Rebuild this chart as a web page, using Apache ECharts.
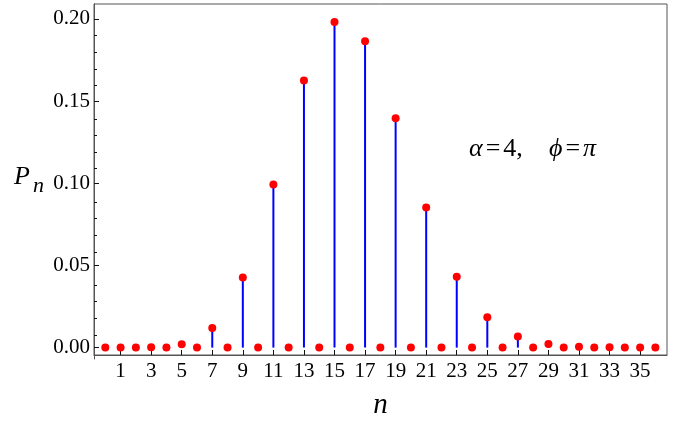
<!DOCTYPE html>
<html>
<head>
<meta charset="utf-8">
<script src="https://cdn.jsdelivr.net/npm/echarts@6/dist/echarts.min.js"></script>
<style>
html,body{margin:0;padding:0;background:#fff;}
#chart{width:689px;height:425px;}
</style>
</head>
<body>
<div id="chart"></div>
<script>
// Photon-number values n = 0..36
var nValues = [0,1,2,3,4,5,6,7,8,9,10,11,12,13,14,15,16,17,18,19,20,21,22,23,24,25,26,27,28,29,30,31,32,33,34,35,36];
var pValues = [0, 0.00001, 0, 0.0002, 0, 0.0020, 0, 0.0120, 0, 0.0427, 0, 0.0992, 0, 0.1626, 0, 0.1981, 0, 0.1865, 0, 0.1395, 0, 0.0852, 0, 0.0431, 0, 0.0184, 0, 0.0068, 0, 0.0022, 0, 0.0005, 0, 0.0002, 0, 0.00005, 0];
var xTickLabels = [1,3,5,7,9,11,13,15,17,19,21,23,25,27,29,31,33,35];
var yTickLabels = [0, 0.05, 0.10, 0.15, 0.20];
var yMinorTicks = [0.01,0.02,0.03,0.04,0.06,0.07,0.08,0.09,0.11,0.12,0.13,0.14,0.16,0.17,0.18,0.19];

var serif = '"Liberation Serif","DejaVu Serif","Times New Roman",serif';
var points = nValues.map(function(n, i){ return [n, pValues[i]]; });

var X_MIN = -0.74, X_MAX = 36.76, Y_MIN = -0.0045, Y_MAX = 0.2091;
var gridRect = {left: 94, right: 22, top: 4, bottom: 66};

var annRich = {
  i: {fontFamily: serif, fontStyle: 'italic', fontSize: 26, fill: '#000'},
  r: {fontFamily: serif, fontSize: 26, fill: '#000'},
  e: {fontFamily: serif, fontSize: 26, fill: '#000', padding: [0, 3, 0, 3]}
};

var chart = echarts.init(document.getElementById('chart'), null, {renderer:'canvas'});
chart.setOption({
  animation: false,
  backgroundColor: '#fff',
  grid: [
    Object.assign({show: true, borderColor: '#555', borderWidth: 1, backgroundColor: 'transparent'}, gridRect),
    Object.assign({show: false}, gridRect)
  ],
  xAxis: [{
    type: 'value', min: X_MIN, max: X_MAX, gridIndex: 0,
    name: 'n', nameLocation: 'middle', nameGap: 36,
    nameTextStyle: {fontFamily: serif, fontStyle: 'italic', fontSize: 29, color: '#000'},
    axisLine: {show: true, onZero: false, lineStyle: {color: '#555', width: 1}},
    axisTick: {show: true, inside: true, length: 5, customValues: xTickLabels, lineStyle: {color: '#111'}},
    axisLabel: {show: true, customValues: xTickLabels, margin: 6, fontFamily: serif, fontSize: 21, color: '#000',
      formatter: function(v){ return String(v); }},
    splitLine: {show: false}
  }, {
    type: 'value', min: X_MIN, max: X_MAX, gridIndex: 1,
    axisLine: {show: false, onZero: false}, axisTick: {show: false}, axisLabel: {show: false}, splitLine: {show: false}
  }],
  yAxis: [{
    type: 'value', min: Y_MIN, max: Y_MAX, gridIndex: 0,
    axisLine: {show: true, onZero: false, lineStyle: {color: '#555', width: 1}},
    axisTick: {show: true, inside: true, length: 5, customValues: yTickLabels, lineStyle: {color: '#111'}},
    axisLabel: {show: true, customValues: yTickLabels, margin: 4, fontFamily: serif, fontSize: 21, color: '#000',
      formatter: function(v){ return v.toFixed(2); }},
    splitLine: {show: false}
  }, {
    type: 'value', min: Y_MIN, max: Y_MAX, gridIndex: 1, position: 'left',
    axisLine: {show: true, onZero: false, lineStyle: {color: '#555', width: 1}},
    axisTick: {show: true, inside: true, length: 3, customValues: yMinorTicks, lineStyle: {color: '#111'}},
    axisLabel: {show: false},
    splitLine: {show: false}
  }],
  series: [{
    type: 'bar', data: points, barWidth: 2, xAxisIndex: 0, yAxisIndex: 0,
    itemStyle: {color: '#0000ff'}, z: 2
  }, {
    type: 'scatter', data: points, xAxisIndex: 0, yAxisIndex: 0, symbol: 'circle', symbolSize: 8,
    itemStyle: {color: '#ff0000', opacity: 1}, z: 3
  }],
  graphic: [
    {type: 'text', left: 14, top: 164, style: {text: 'P', font: 'italic 26px ' + serif, fill: '#000'}},
    {type: 'text', left: 33, top: 175, style: {text: 'n', font: 'italic 22px ' + serif, fill: '#000'}},
    {type: 'text', left: 469, top: 136, style: {text: '{i|α}{e|=}{r|4,}', rich: annRich}},
    {type: 'text', left: 549, top: 136, style: {text: '{i|ϕ}{e|=}{i|π}', rich: annRich}}
  ]
});
</script>
</body>
</html>
